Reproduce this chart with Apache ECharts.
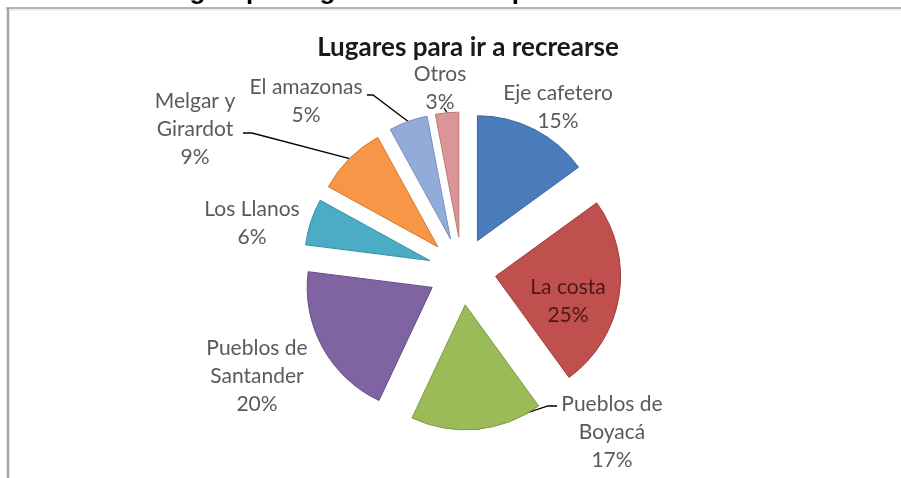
<!DOCTYPE html>
<html>
<head>
<meta charset="utf-8">
<script src="https://cdn.jsdelivr.net/npm/echarts@6/dist/echarts.min.js"></script>
<style>
  html, body { margin: 0; padding: 0; background: #ffffff; }
  #chart { width: 901px; height: 478px; }
</style>
</head>
<body>
<div id="chart"></div>
<script>
// Destinations and their share of answers (%)
const places = [
  'Eje cafetero',
  'La costa',
  'Pueblos de\nBoyacá',
  'Pueblos de\nSantander',
  'Los Llanos',
  'Melgar y\nGirardot',
  'El amazonas',
  'Otros'
];
const shares = [15, 25, 17, 20, 6, 9, 5, 3];
const sliceColors = ['#4A7BBA', '#C0504D', '#9BBB59', '#8064A2', '#4BACC6', '#F79646', '#93ABD8', '#D99694'];
const sliceBorders = ['#3C679C', '#9E3B39', '#7E9C43', '#654C86', '#3690A8', '#D9782C', '#7690C0', '#BD7775'];

const chartTitle = 'Lugares para ir a recrearse';
const headingText = 'Cuál es el lugar que le gustaría visitar para recrearse';

// pie geometry
const pieCenter = [462, 271];
const pieRadius = 125;
const explode = 34;

// label placement (centre of each label block)
const labelSpots = [[558, 107], [568, 301], [612, 432], [257, 376], [252, 223], [195, 129], [306, 101], [440, 88]];
// leader line bends for labels that use one
const leaderBends = {
  2: [[548, 406], [557, 406]],
  5: [[252, 133], [243, 133]],
  6: [[373, 95], [367, 95]],
  7: [[444, 108]]
};

const total = shares.reduce((a, b) => a + b, 0);

// every slice gets its own layer, pushed out along its mid angle
const series = places.map((_, k) => {
  const before = shares.slice(0, k).reduce((a, b) => a + b, 0);
  const mid = (before + shares[k] / 2) / total * 2 * Math.PI;
  const center = [pieCenter[0] + explode * Math.sin(mid), pieCenter[1] - explode * Math.cos(mid)];
  return {
    type: 'pie',
    center: center,
    radius: [0, pieRadius],
    startAngle: 90,
    clockwise: true,
    avoidLabelOverlap: false,
    silent: true,
    emphasis: { disabled: true },
    data: places.map((name, i) => {
      const on = i === k;
      return {
        name: name,
        value: shares[i],
        itemStyle: on
          ? { color: sliceColors[i], borderColor: sliceBorders[i], borderWidth: 1 }
          : { color: 'rgba(0,0,0,0)', borderWidth: 0 },
        label: on ? (i === 1 ? { show: true, color: '#4a1818' } : { show: true }) : { show: false },
        labelLine: { show: on && leaderBends[i] !== undefined }
      };
    }),
    label: {
      position: 'outside',
      formatter: p => p.name + '\n' + p.value + '%',
      fontFamily: 'Lato',
      fontSize: 21,
      lineHeight: 28,
      color: '#5a5a5a',
      align: 'center'
    },
    labelLine: { length: 5, length2: 5, lineStyle: { color: '#000', width: 1.3 } },
    labelLayout: function (params) {
      const i = params.dataIndex;
      if (i !== k) return {};
      const spot = labelSpots[i];
      const out = { x: spot[0], y: spot[1], align: 'center', verticalAlign: 'middle' };
      if (leaderBends[i] && params.labelLinePoints) {
        out.labelLinePoints = [params.labelLinePoints[0]].concat(leaderBends[i]);
      }
      return out;
    }
  };
});

const chart = echarts.init(document.getElementById('chart'), null, { renderer: 'canvas' });

chart.setOption({
  animation: false,
  backgroundColor: '#ffffff',
  title: {
    text: chartTitle,
    left: 463,
    top: 30,
    textAlign: 'center',
    textStyle: { fontFamily: 'Lato', fontWeight: 'bold', fontSize: 26, color: '#1a1a1a' }
  },
  graphic: [
    {
      type: 'text', x: 691, y: -8,
      style: { text: headingText, fontFamily: 'Liberation Sans', fontWeight: 'bold', fontSize: 26, fill: '#000', align: 'right', verticalAlign: 'middle' }
    },
    { type: 'line', shape: { x1: 6, y1: 8, x2: 901, y2: 8 }, style: { stroke: '#9a9a9a', lineWidth: 1.5 } },
    { type: 'line', shape: { x1: 8, y1: 8, x2: 8, y2: 478 }, style: { stroke: '#a4a4a4', lineWidth: 2.5 } },
    { type: 'line', shape: { x1: 10, y1: 10, x2: 901, y2: 10 }, style: { stroke: '#efefef', lineWidth: 2 } }
  ],
  series: series
});
</script>
</body>
</html>
